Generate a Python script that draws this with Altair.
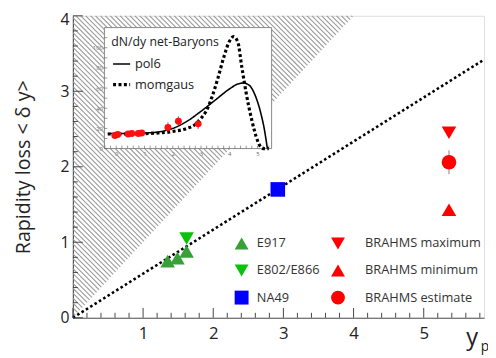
import altair as alt
import pandas as pd
import numpy as np

FONT = "Open Sans"

# ---------------- main panel data ----------------
exp_a = ["E917", "E917", "E917", "E802/E866", "NA49"]
exp_a_x = [1.35, 1.49, 1.62, 1.62, 2.92]
exp_a_y = [0.75, 0.79, 0.88, 1.05, 1.70]

exp_b = ["BRAHMS maximum", "BRAHMS minimum", "BRAHMS estimate"]
exp_b_x = [5.36, 5.36, 5.36]
exp_b_y = [2.45, 1.43, 2.06]
est_err_lo = [1.90]
est_err_hi = [2.22]
est_err_x = [5.36]

line_x = [0.0, 5.86]
line_y = [0.0, 3.42]

x_ticks_major = [0, 1, 2, 3, 4, 5]
x_ticks_minor = [round(v, 1) for v in np.arange(0.2, 5.85, 0.2) if abs(v - round(v)) > 1e-6]
y_ticks_major = [0, 1, 2, 3, 4]
y_ticks_minor = [round(v, 1) for v in np.arange(0.2, 4.0, 0.2) if abs(v - round(v)) > 1e-6]

# ---------------- inset data ----------------
ins_x = [-0.05, 0.05, 0.42, 0.55, 0.78, 0.90, 1.83, 2.20, 2.90]
ins_y = [13.0, 14.0, 14.5, 15.0, 15.0, 15.5, 21.0, 27.0, 24.5]
ins_err = [1.0, 1.0, 1.0, 1.0, 1.0, 1.0, 5.0, 5.0, 5.0]

pol6_x = [-0.3, 0.0, 0.5, 1.0, 1.5, 2.0, 2.5, 3.0, 3.5, 4.0, 4.3, 4.5, 4.7, 4.9, 5.1, 5.25, 5.35]
pol6_y = [15.0, 15.0, 15.0, 15.5, 16.5, 20.0, 27.0, 37.0, 48.0, 59.0, 64.0, 65.0, 63.0, 54.0, 37.0, 18.0, 0.0]

mom_x = [-0.3, 0.0, 0.5, 1.0, 1.5, 2.0, 2.5, 2.8, 3.0, 3.2, 3.4, 3.6, 3.8, 4.0, 4.15, 4.3, 4.45, 4.6, 4.8, 5.0, 5.1, 5.2, 5.4]
mom_y = [14.5, 14.5, 14.5, 14.8, 15.5, 17.0, 20.0, 24.0, 30.0, 38.0, 52.0, 70.0, 90.0, 106.0, 111.0, 106.0, 80.0, 55.0, 28.0, 8.0, 2.0, 0.0, 0.0]

ins_xt = [0, 1, 2, 3, 4, 5]
ins_yt = [0, 20, 40, 60, 80, 100]

# ---------------- geometry ----------------
W, H = 418, 307
XD = [0.0, 5.86]
YD = [0.0, 4.0]
xs = alt.Scale(domain=XD, nice=False, zero=False)
ys = alt.Scale(domain=YD, nice=False, zero=False)

# hatch lines for the region above the kinematic limit (delta y > y_p), 45 deg in pixels
kx = (W / (XD[1] - XD[0])) / (H / (YD[1] - YD[0]))
step = 5.0 / (H / (YD[1] - YD[0]))
rows = []
c = step
while True:
    if c <= YD[1]:
        sx, sy = 0.0, c
    else:
        sx, sy = (c - YD[1]) / kx, YD[1]
    ex = c / (1 + kx)
    ey = ex
    if sx >= ex:
        break
    rows.append(dict(x0=sx, y0=sy, x1=ex, y1=ey))
    c += step
hatch_df = pd.DataFrame(rows)

x_axis = alt.Axis(values=[1, 2, 3, 4, 5], ticks=False, grid=False, domainColor="#555",
                  domainWidth=1.2, labelFontSize=17, labelPadding=8, labelColor="#222",
                  labelFont=FONT, title=None)
y_axis = alt.Axis(values=y_ticks_major, ticks=False, grid=False, domainColor="#555",
                  domainWidth=1.2, labelFontSize=16, labelPadding=4, labelColor="#222",
                  labelFont=FONT,
                  labelOffset=alt.condition("datum.value == 4", alt.value(4), alt.value(0)),
                  title="Rapidity loss < δ y>", titleFontSize=20,
                  titleFont=FONT, titleFontWeight="normal", titleColor="#222", titlePadding=27)


def X(f):
    return alt.X(f, type="quantitative", scale=xs, axis=x_axis)


def Y(f):
    return alt.Y(f, type="quantitative", scale=ys, axis=y_axis)


hatch = alt.Chart(hatch_df).mark_rule(color="#9a9a9a", strokeWidth=1.1).encode(
    x=X("x0"), y=Y("y0"), x2="x1", y2="y1")

dline = alt.Chart(pd.DataFrame({"x": line_x, "y": line_y})).mark_line(
    color="black", strokeWidth=2.6, strokeDash=[2.6, 2.6]).encode(x=X("x"), y=Y("y"))

xt_major = alt.Chart(pd.DataFrame({"t": x_ticks_major})).mark_rule(color="#444").encode(
    x=X("t"), y=alt.value(H), y2=alt.value(H - 10))
xt_minor = alt.Chart(pd.DataFrame({"t": x_ticks_minor})).mark_rule(color="#444").encode(
    x=X("t"), y=alt.value(H), y2=alt.value(H - 5))
yt_major = alt.Chart(pd.DataFrame({"t": y_ticks_major})).mark_rule(color="#444").encode(
    y=Y("t"), x=alt.value(0), x2=alt.value(10))
yt_minor = alt.Chart(pd.DataFrame({"t": y_ticks_minor})).mark_rule(color="#444").encode(
    y=Y("t"), x=alt.value(0), x2=alt.value(5))

err = alt.Chart(pd.DataFrame({"x": est_err_x, "lo": est_err_lo, "hi": est_err_hi})).mark_rule(
    color="#999", strokeWidth=1.2).encode(x=X("x"), y=Y("lo"), y2="hi")


def leg(lx, off):
    return alt.Legend(orient="none", legendX=lx, legendY=224, title=None,
                      symbolSize=200, labelFontSize=13, labelFont=FONT,
                      labelColor="#333", labelOffset=off, rowPadding=12.5,
                      padding=0, symbolStrokeWidth=0)


dom_a = ["E917", "E802/E866", "NA49"]
pts_a = alt.Chart(pd.DataFrame({"exp": exp_a, "x": exp_a_x, "y": exp_a_y})).mark_point(
    filled=True, size=220, opacity=1).encode(
    x=X("x"), y=Y("y"),
    color=alt.Color("exp:N", scale=alt.Scale(domain=dom_a, range=["#38a038", "#0cc00c", "#0000ff"]),
                    legend=leg(164, 8)),
    shape=alt.Shape("exp:N", scale=alt.Scale(domain=dom_a, range=["triangle-up", "triangle-down", "square"]),
                    legend=leg(164, 8)),
)

dom_b = ["BRAHMS maximum", "BRAHMS minimum", "BRAHMS estimate"]
pts_b = alt.Chart(pd.DataFrame({"exp": exp_b, "x": exp_b_x, "y": exp_b_y})).mark_point(
    filled=True, size=220, opacity=1).encode(
    x=X("x"), y=Y("y"),
    color=alt.Color("exp:N", scale=alt.Scale(domain=dom_b, range=["#ff0000", "#ff0000", "#ff0000"]),
                    legend=leg(262, 20)),
    shape=alt.Shape("exp:N", scale=alt.Scale(domain=dom_b, range=["triangle-down", "triangle-up", "circle"]),
                    legend=leg(262, 20)),
)

ylab = alt.Chart(pd.DataFrame({"t": ["y"]})).mark_text(
    font=FONT, fontSize=24, color="#222", align="center", baseline="alphabetic").encode(
    text="t:N", x=alt.value(406), y=alt.value(335))
plab = alt.Chart(pd.DataFrame({"t": ["p"]})).mark_text(
    font=FONT, fontSize=14, color="#222", align="center", baseline="alphabetic").encode(
    text="t:N", x=alt.value(419), y=alt.value(341))

main = alt.layer(hatch, dline, err, xt_minor, xt_major, yt_minor, yt_major, pts_a, pts_b,
                 ylab, plab).resolve_scale(color="independent", shape="independent")

# ---------------- inset ----------------
IXD = [-0.42, 5.5]
IYD = [0.0, 120.0]
ixs = alt.Scale(domain=IXD, range=[32, 202], nice=False, zero=False)
iys = alt.Scale(domain=IYD, range=[135, 12], nice=False, zero=False)
ix_axis = alt.Axis(orient="bottom", offset=-(H - 135), values=ins_xt, ticks=False, grid=False,
                   domain=False, labelFontSize=6, labelColor="#666", labelPadding=2, title=None)
iy_axis = alt.Axis(orient="left", offset=-32, values=ins_yt, ticks=False, grid=False,
                   domain=False, labelFontSize=6, labelColor="#666", labelPadding=2, title=None)


def IX(f):
    return alt.X(f, type="quantitative", scale=ixs, axis=ix_axis)


def IY(f):
    return alt.Y(f, type="quantitative", scale=iys, axis=iy_axis)


frame = alt.Chart(pd.DataFrame({"a": [IXD[0]], "b": [IXD[1]], "c": [IYD[0]], "d": [IYD[1]]})).mark_rect(
    fill="white", stroke="#888", strokeWidth=1).encode(x=IX("a"), x2="b", y=IY("c"), y2="d")

ixt = alt.Chart(pd.DataFrame({"t": [v / 5 for v in range(-2, 28)]})).mark_rule(color="#555", strokeWidth=0.6).encode(
    x=IX("t"), y=alt.value(135), y2=alt.value(132))
iyt = alt.Chart(pd.DataFrame({"t": list(range(0, 120, 10))})).mark_rule(color="#555", strokeWidth=0.6).encode(
    y=IY("t"), x=alt.value(32), x2=alt.value(35))


def fleg():
    return alt.Legend(orient="none", legendX=39, legendY=21,
                      title="dN/dy net-Baryons", titleFontSize=12.5,
                      titleFont=FONT, titleFontWeight="normal",
                      titleColor="#222", titlePadding=6,
                      labelFontSize=13, labelFont=FONT, labelColor="#222",
                      labelOffset=3, symbolType="stroke", symbolSize=300,
                      symbolStrokeColor="black", rowPadding=3, padding=0)


fits_df = pd.concat([
    pd.DataFrame({"fit": "pol6", "x": pol6_x, "y": pol6_y, "o": range(len(pol6_x))}),
    pd.DataFrame({"fit": "momgaus", "x": mom_x, "y": mom_y, "o": range(len(mom_x))}),
])
fits = alt.Chart(fits_df).mark_line(color="black", interpolate="monotone", clip=True).encode(
    x=IX("x"), y=IY("y"), order="o:Q",
    strokeDash=alt.StrokeDash("fit:N", scale=alt.Scale(domain=["pol6", "momgaus"], range=[[1, 0], [3, 2.5]]),
                              legend=fleg()),
    strokeWidth=alt.StrokeWidth("fit:N", scale=alt.Scale(domain=["pol6", "momgaus"], range=[1.6, 3.2]),
                                legend=fleg()),
)

ins_df = pd.DataFrame({"x": ins_x, "y": ins_y, "e": ins_err})
ins_df["lo"] = ins_df["y"] - ins_df["e"]
ins_df["hi"] = ins_df["y"] + ins_df["e"]
ins_err_bars = alt.Chart(ins_df).mark_rule(color="#444", strokeWidth=0.8).encode(
    x=IX("x"), y=IY("lo"), y2="hi")
ins_pts = alt.Chart(ins_df).mark_point(filled=True, shape="circle", size=50, color="#ff1010", opacity=1).encode(
    x=IX("x"), y=IY("y"))

inset = alt.layer(frame, ixt, iyt, fits, ins_err_bars, ins_pts)

chart = alt.layer(main, inset).resolve_scale(x="independent", y="independent").properties(
    width=W, height=H,
    autosize=alt.AutoSizeParams(type="none"),
    padding={"left": 66, "top": 5, "right": 4, "bottom": 38},
).configure_view(stroke="#999", strokeWidth=1.2).configure(font=FONT)

chart.save("out.html", embed_options={"renderer": "svg", "actions": False})
